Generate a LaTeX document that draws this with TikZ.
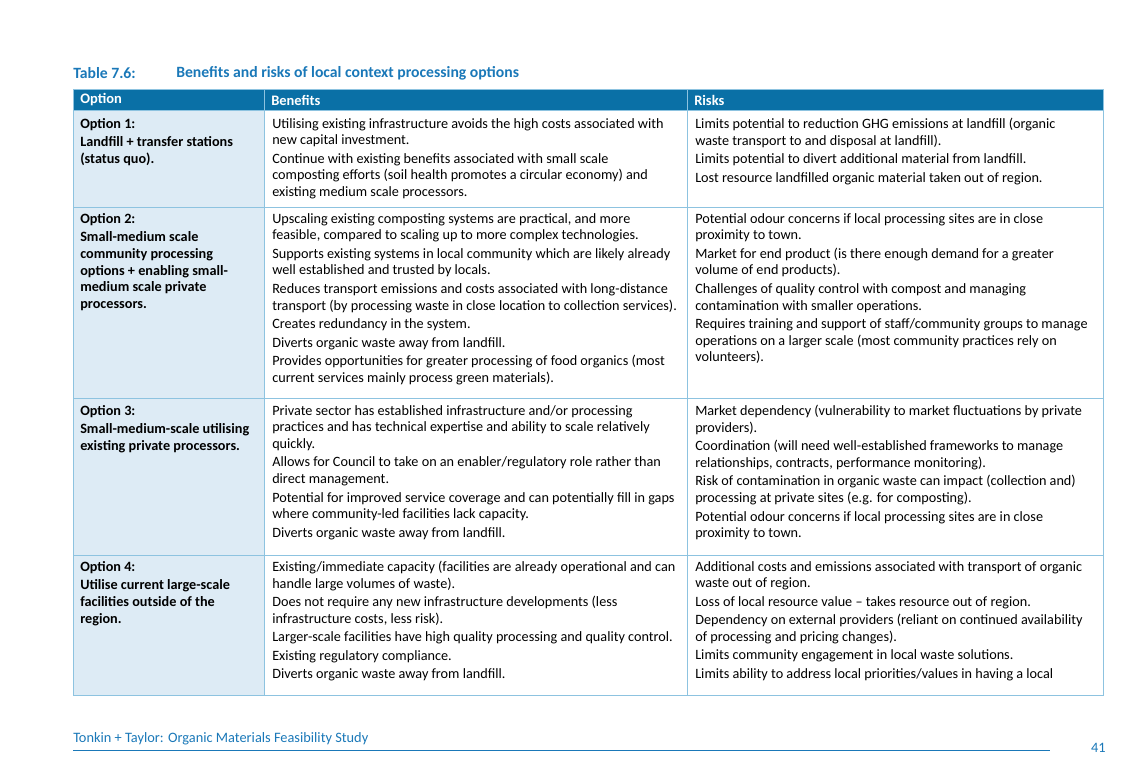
\documentclass[tikz,border=0pt]{standalone}
\usepackage{fontspec}
\setmainfont{Carlito}
\definecolor{hdr}{HTML}{0A70A6}
\definecolor{ttl}{HTML}{1A78B8}
\definecolor{opt}{HTML}{DDEBF5}
\definecolor{grid}{HTML}{8DC3E0}
\begin{document}
\begin{tikzpicture}[x=0.262mm,y=-0.262mm,
  cell/.style={anchor=north west,align=left,inner sep=0pt,font=\fontsize{10.6}{12.4}\selectfont},
  bcell/.style={cell,font=\fontsize{10.6}{12.4}\selectfont\bfseries},
  hd/.style={anchor=west,inner sep=0pt,text=white,font=\fontsize{10.8}{12}\selectfont\bfseries}]
\useasboundingbox (0,0) rectangle (1133,783);
\fill[hdr] (73,89) rectangle (1103,110);
\fill[opt] (73,110) rectangle (264,695);
\draw[grid,line width=0.6pt] (73,89) rectangle (1103,695);
\foreach \y in {110,207,398,555} \draw[grid,line width=0.6pt] (73,\y) -- (1103,\y);
\foreach \x in {264,687} \draw[grid,line width=0.6pt] (\x,89) -- (\x,695);
\node[anchor=west,inner sep=0pt,text=ttl,font=\fontsize{11.7}{13}\selectfont\bfseries] (t1) at (73,73) {Table 7.6:};
\node[anchor=west,inner sep=0pt,text=ttl,font=\fontsize{11.7}{13}\selectfont\bfseries] (t2) at (176,73) {Benefits and risks of local context processing options};
\node[hd] (h1) at (80,100) {Option};
\node[hd] (h2) at (271,100) {Benefits};
\node[hd] (h3) at (694,100) {Risks};
\def\ps{\\[1.4pt]}
% Row 1
\node[bcell] (o1) at (80,118) {Option 1:\ps Landfill + transfer stations\\(status quo).};
\node[cell] (b1) at (272,118) {Utilising existing infrastructure avoids the high costs associated with\\new capital investment.\ps Continue with existing benefits associated with small scale\\composting efforts (soil health promotes a circular economy) and\\existing medium scale processors.};
\node[cell] (r1) at (695,118) {Limits potential to reduction GHG emissions at landfill (organic\\waste transport to and disposal at landfill).\ps Limits potential to divert additional material from landfill.\ps Lost resource landfilled organic material taken out of region.};
% Row 2
\node[bcell] (o2) at (80,213) {Option 2:\ps Small-medium scale\\community processing\\options + enabling small-\\medium scale private\\processors.};
\node[cell] (b2) at (272,213) {Upscaling existing composting systems are practical, and more\\feasible, compared to scaling up to more complex technologies.\ps Supports existing systems in local community which are likely already\\well established and trusted by locals.\ps Reduces transport emissions and costs associated with long-distance\\transport (by processing waste in close location to collection services).\ps Creates redundancy in the system.\ps Diverts organic waste away from landfill.\ps Provides opportunities for greater processing of food organics (most\\current services mainly process green materials).};
\node[cell] (r2) at (695,213) {Potential odour concerns if local processing sites are in close\\proximity to town.\ps Market for end product (is there enough demand for a greater\\volume of end products).\ps Challenges of quality control with compost and managing\\contamination with smaller operations.\ps Requires training and support of staff/community groups to manage\\operations on a larger scale (most community practices rely on\\volunteers).};
% Row 3
\node[bcell] (o3) at (80,405) {Option 3:\ps Small-medium-scale utilising\\existing private processors.};
\node[cell] (b3) at (272,405) {Private sector has established infrastructure and/or processing\\practices and has technical expertise and ability to scale relatively\\quickly.\ps Allows for Council to take on an enabler/regulatory role rather than\\direct management.\ps Potential for improved service coverage and can potentially fill in gaps\\where community-led facilities lack capacity.\ps Diverts organic waste away from landfill.};
\node[cell] (r3) at (695,405) {Market dependency (vulnerability to market fluctuations by private\\providers).\ps Coordination (will need well-established frameworks to manage\\relationships, contracts, performance monitoring).\ps Risk of contamination in organic waste can impact (collection and)\\processing at private sites (e.g. for composting).\ps Potential odour concerns if local processing sites are in close\\proximity to town.};
% Row 4
\node[bcell] (o4) at (80,561) {Option 4:\ps Utilise current large-scale\\facilities outside of the\\region.};
\node[cell] (b4) at (272,561) {Existing/immediate capacity (facilities are already operational and can\\handle large volumes of waste).\ps Does not require any new infrastructure developments (less\\infrastructure costs, less risk).\ps Larger-scale facilities have high quality processing and quality control.\ps Existing regulatory compliance.\ps Diverts organic waste away from landfill.};
\node[cell] (r4) at (695,561) {Additional costs and emissions associated with transport of organic\\waste out of region.\ps Loss of local resource value -- takes resource out of region.\ps Dependency on external providers (reliant on continued availability\\of processing and pricing changes).\ps Limits community engagement in local waste solutions.\ps Limits ability to address local priorities/values in having a local};
% footer
\node[anchor=west,inner sep=0pt,text=ttl,font=\fontsize{10.7}{12}\selectfont] (f1) at (73,739) {Tonkin + Taylor: Organic Materials Feasibility Study};
\draw[ttl,line width=0.6pt] (73,750) -- (1050,750);
\node[anchor=east,inner sep=0pt,text=ttl,font=\fontsize{10.7}{12}\selectfont] (pg) at (1106,748) {41};
\end{tikzpicture}
\end{document}
